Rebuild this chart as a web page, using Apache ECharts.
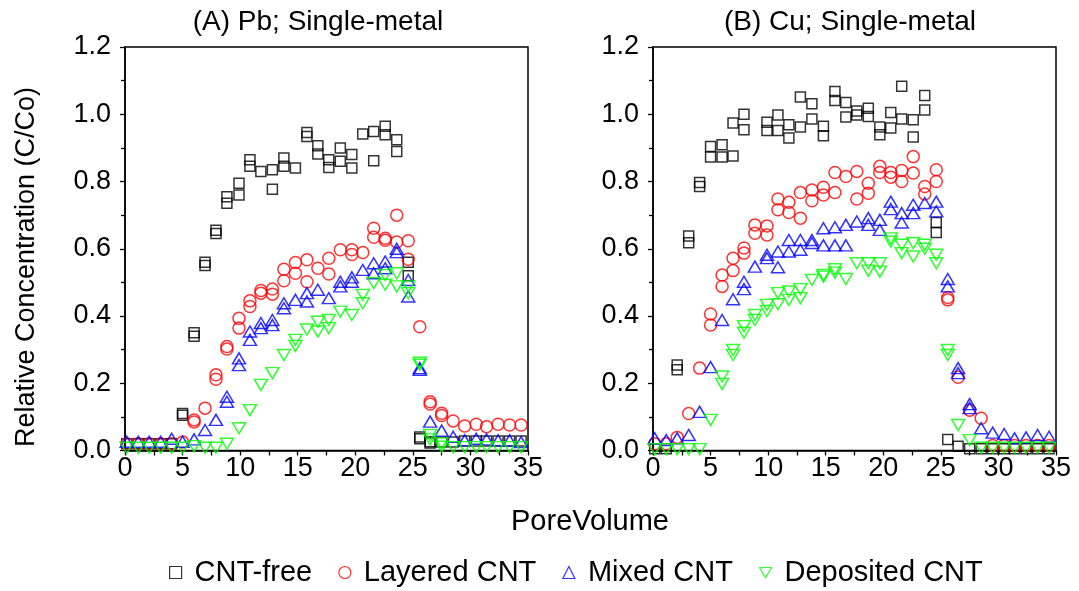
<!DOCTYPE html>
<html>
<head>
<meta charset="utf-8">
<script src="https://cdn.jsdelivr.net/npm/echarts@6/dist/echarts.min.js"></script>
<style>html,body{margin:0;padding:0;background:#fff}#c{width:1079px;height:591px}</style>
</head>
<body>
<div id="c"></div>
<script>
// Pore volume positions (shared by both panels)
var poreVolume = [0.15,1.15,2.1,3.1,4.05,5.0,6.0,6.95,7.9,8.85,9.9,10.85,11.8,12.8,13.8,14.8,15.8,16.75,17.7,18.7,19.7,20.65,21.6,22.6,23.6,24.6,25.6,26.5,27.5,28.5,29.5,30.5,31.4,32.4,33.4,34.4];

var seriesNames = ['CNT-free','Layered CNT','Mixed CNT','Deposited CNT'];
var xTicks = [0,5,10,15,20,25,30,35];
var yTicks = [0.0,0.2,0.4,0.6,0.8,1.0,1.2];

// Panel A: Pb, two replicate readings per pore volume (null = not visible)
var pbFree1 = [0.02,0.02,0.02,0.02,0.02,0.11,0.35,0.56,0.655,0.755,0.795,0.865,0.83,0.835,0.87,0.84,0.946,0.906,0.865,0.90,0.88,0.941,0.949,0.964,0.924,0.56,0.04,0.026,0.025,0.025,0.028,0.028,0.028,0.028,0.028,0.028];
var pbFree2 = [null,null,null,null,null,0.105,0.34,0.55,0.645,0.735,0.76,0.845,null,0.777,0.845,null,0.934,0.882,0.842,0.86,0.84,null,0.862,0.939,0.889,0.52,0.035,0.022,null,null,null,null,null,null,null,null];
var pbLay1 = [0.02,0.02,0.02,0.02,0.02,0.025,0.091,0.126,0.225,0.309,0.393,0.445,0.476,0.48,0.539,0.559,0.567,0.542,0.572,0.597,0.597,0.589,0.661,0.631,0.70,0.624,0.368,0.145,0.111,0.088,0.073,0.078,0.071,0.078,0.076,0.076];
var pbLay2 = [null,null,null,null,null,null,0.085,null,0.212,0.302,0.364,0.428,0.468,0.465,0.505,0.527,0.502,null,0.525,null,0.583,null,0.634,0.625,0.62,0.569,null,0.138,0.104,null,null,null,null,null,null,null];
var pbMix1 = [0.026,0.026,0.026,0.026,0.035,0.026,0.033,0.061,0.091,0.16,0.274,0.354,0.379,0.388,0.438,0.448,0.468,0.478,0.453,0.502,0.515,0.537,0.557,0.562,0.60,0.507,0.245,0.086,0.059,0.041,0.03,0.035,0.033,0.03,0.03,0.025];
var pbMix2 = [null,null,null,null,null,null,null,null,null,0.145,0.254,0.329,0.364,0.373,0.423,null,0.443,null,null,0.488,0.502,null,0.527,0.542,0.59,0.458,0.24,null,null,null,null,null,null,null,null,null];
var pbDep1 = [0.008,0.008,0.008,0.008,0.008,0.008,0.013,0.008,0.008,0.02,0.066,0.12,0.195,0.23,0.284,0.329,0.36,0.383,0.388,0.413,0.403,0.463,0.498,0.522,0.527,0.488,0.261,0.046,0.021,0.01,0.01,0.01,0.01,0.01,0.01,0.01];
var pbDep2 = [null,null,null,null,null,null,null,null,null,null,null,null,null,null,null,0.311,null,0.354,0.364,null,null,0.438,null,0.493,0.488,0.468,0.255,0.033,0.011,null,null,null,null,null,null,null];

// Panel B: Cu
var cuFree1 = [0.005,0.005,0.254,0.638,0.797,0.904,0.909,0.974,1.0,null,0.976,0.998,0.969,1.051,1.031,0.964,1.068,1.035,0.998,1.018,0.962,1.005,1.083,0.984,1.056,0.678,0.033,0.013,0.005,0.005,0.005,0.005,0.005,0.005,0.005,0.005];
var cuFree2 = [null,null,0.24,0.618,0.785,0.873,0.873,0.876,0.954,null,0.952,0.952,0.929,0.962,0.986,0.936,1.041,0.992,1.01,0.993,0.939,0.959,0.986,0.932,1.013,0.648,null,null,null,null,null,null,null,null,null,null];
var cuLay1 = [0.02,0.02,0.039,0.11,0.245,0.406,0.522,0.572,0.602,0.671,0.668,0.748,0.738,0.767,0.775,0.783,0.827,0.815,0.83,0.795,0.845,0.827,0.833,0.874,0.785,0.835,0.448,0.218,0.12,0.096,0.015,0.015,0.015,0.015,0.015,0.015];
var cuLay2 = [null,null,null,null,null,0.373,0.488,0.535,0.587,0.646,0.641,0.716,0.708,0.691,0.743,0.76,0.767,null,0.748,0.765,0.827,0.813,0.80,0.825,0.763,0.80,0.455,null,null,null,null,null,null,null,null,null];
var cuMix1 = [0.036,0.031,0.036,0.046,0.115,0.248,0.388,0.45,0.502,0.547,0.582,0.592,0.626,0.626,0.626,0.661,0.664,0.671,0.681,0.691,0.686,0.74,0.706,0.731,0.736,0.74,0.51,0.245,0.138,0.066,0.053,0.049,0.036,0.039,0.046,0.041];
var cuMix2 = [null,null,null,null,null,null,null,null,0.48,null,0.572,0.545,0.592,0.597,0.617,0.61,0.61,0.61,null,0.671,0.656,0.718,0.678,0.706,null,0.711,0.488,0.23,0.126,null,null,null,null,null,null,null];
var cuDep1 = [0.004,0.004,0.004,0.004,0.004,0.091,0.22,0.299,0.37,0.403,0.433,0.468,0.473,0.48,0.507,0.522,0.539,0.51,0.557,0.557,0.557,0.631,0.612,0.617,0.612,0.582,0.299,0.076,0.031,0.008,0.008,0.008,0.008,0.008,0.008,0.008];
var cuDep2 = [null,null,null,null,null,null,0.198,0.284,0.35,0.388,0.415,0.435,0.448,0.453,null,0.517,0.529,null,null,0.535,0.532,0.621,0.587,0.577,0.60,0.557,0.284,null,null,null,null,null,null,null,null,null];

var colors = ['#000000','#ff0000','#0000ff','#00ff00'];
var FONT = 'Liberation Sans, Arial, sans-serif';

function pairs(a, b) {
  var out = [];
  [a, b].forEach(function (arr) {
    arr.forEach(function (v, i) { if (v !== null) out.push([poreVolume[i], v]); });
  });
  return out;
}

var panels = [
  [pairs(pbFree1, pbFree2), pairs(pbLay1, pbLay2), pairs(pbMix1, pbMix2), pairs(pbDep1, pbDep2)],
  [pairs(cuFree1, cuFree2), pairs(cuLay1, cuLay2), pairs(cuMix1, cuMix2), pairs(cuDep1, cuDep2)]
];

var symbolDefs = [
  {symbol: 'rect', size: 10, rotate: 0},
  {symbol: 'circle', size: 12, rotate: 0},
  {symbol: 'triangle', size: [13, 11], rotate: 0},
  {symbol: 'triangle', size: [13, 11], rotate: 180}
];

var series = [];
panels.forEach(function (sets, p) {
  sets.forEach(function (d, k) {
    series.push({
      type: 'scatter', name: seriesNames[k], xAxisIndex: p, yAxisIndex: p,
      data: d, symbol: symbolDefs[k].symbol, symbolSize: symbolDefs[k].size,
      symbolRotate: symbolDefs[k].rotate, silent: true, animation: false,
      itemStyle: {color: 'rgba(0,0,0,0)', borderColor: colors[k], borderWidth: 1.5}
    });
  });
});

function xAxis(idx) {
  return {
    gridIndex: idx, type: 'value', min: 0, max: 35, interval: 5,
    axisLine: {onZero: false, lineStyle: {color: '#000', width: 1.5}},
    axisTick: {show: true, inside: false, length: 5, lineStyle: {color: '#000', width: 1.3}},
    minorTick: {show: true, splitNumber: 2, length: 5, lineStyle: {color: '#000', width: 1.3}},
    axisLabel: {color: '#000', fontSize: 27, fontFamily: FONT, margin: 5,
      formatter: function (v) { return xTicks.indexOf(v) >= 0 ? String(v) : ''; }},
    splitLine: {show: false}
  };
}
function yAxis(idx) {
  return {
    gridIndex: idx, type: 'value', min: 0, max: 1.2, interval: 0.2,
    axisLine: {onZero: false, lineStyle: {color: '#000', width: 1.5}},
    axisTick: {show: true, inside: false, length: 5, lineStyle: {color: '#000', width: 1.3}},
    minorTick: {show: true, splitNumber: 2, length: 4, lineStyle: {color: '#000', width: 1.3}},
    axisLabel: {color: '#000', fontSize: 27, fontFamily: FONT, margin: 14,
      formatter: function (v) { return v.toFixed(1); }},
    splitLine: {show: false}
  };
}

var chart = echarts.init(document.getElementById('c'), null, {renderer: 'canvas'});
chart.setOption({
  backgroundColor: '#fff',
  animation: false,
  grid: [
    {left: 125, top: 47, width: 403, height: 403.5, show: true, borderColor: '#000', borderWidth: 1.5, backgroundColor: 'rgba(0,0,0,0)'},
    {left: 653, top: 47, width: 403, height: 403.5, show: true, borderColor: '#000', borderWidth: 1.5, backgroundColor: 'rgba(0,0,0,0)'}
  ],
  xAxis: [xAxis(0), xAxis(1)],
  yAxis: [yAxis(0), yAxis(1)],
  legend: {
    left: 164, top: 553, itemWidth: 12, itemHeight: 12, itemGap: 26,
    textStyle: {color: '#000', fontSize: 29, fontFamily: FONT, padding: [0, 0, 0, 8]},
    data: [
      {name: 'CNT-free', icon: 'rect', itemStyle: {color: 'rgba(0,0,0,0)', borderColor: '#000', borderWidth: 1.2}},
      {name: 'Layered CNT', icon: 'circle', itemStyle: {color: 'rgba(0,0,0,0)', borderColor: '#f00', borderWidth: 1.2}},
      {name: 'Mixed CNT', icon: 'triangle', itemStyle: {color: 'rgba(0,0,0,0)', borderColor: '#00f', borderWidth: 1.2}},
      {name: 'Deposited CNT', icon: 'path://M0,0L12,0L6,10Z', itemStyle: {color: 'rgba(0,0,0,0)', borderColor: '#0f0', borderWidth: 1.2}}
    ]
  },
  graphic: [
    {type: 'text', x: 318, y: 22, style: {text: '(A) Pb; Single-metal', fill: '#000', font: '28px ' + FONT, align: 'center', verticalAlign: 'middle'}},
    {type: 'text', x: 850, y: 22, style: {text: '(B) Cu; Single-metal', fill: '#000', font: '28px ' + FONT, align: 'center', verticalAlign: 'middle'}},
    {type: 'text', x: 590, y: 522, style: {text: 'PoreVolume', fill: '#000', font: '29px ' + FONT, align: 'center', verticalAlign: 'middle'}},
    {type: 'text', x: 27, y: 267, rotation: Math.PI / 2, style: {text: 'Relative Concentration (C/Co)', fill: '#000', font: '27px ' + FONT, align: 'center', verticalAlign: 'middle'}}
  ],
  series: series
});
</script>
</body>
</html>
